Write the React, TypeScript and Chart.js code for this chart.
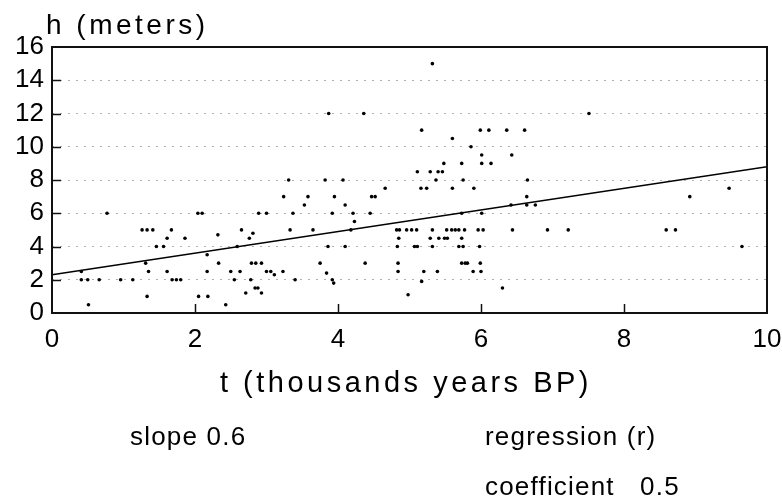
import React, { useEffect, useRef } from "react";
import { Chart, registerables } from "chart.js";

Chart.register(...registerables);

// Scatter observations: t (thousands years BP) and h (meters)
const tValues = [
  0.41, 0.5, 0.66, 0.96, 1.13, 1.68, 1.74, 1.8, 0.51, 0.41, 0.77, 2.04, 2.1,
  1.26, 1.33, 1.41, 1.67, 1.61, 1.86, 2.32, 1.46, 1.56, 2.17, 1.31, 2.33,
  1.35, 1.61, 2.17, 1.33, 2.05, 2.18,
  3.31, 3.82, 4.07, 4.66, 3.24, 3.58, 3.95, 4.47, 4.52, 3.53, 4.1, 2.89, 3.0,
  3.37, 3.92, 4.21, 4.45, 4.23, 2.65, 3.33, 3.65, 4.18, 2.81, 2.76, 2.59,
  3.86, 4.1, 2.79, 2.85, 2.93, 3.75, 4.38, 2.5, 2.63, 3.0, 3.06, 3.11, 3.23,
  3.84, 2.55, 2.78, 3.4, 3.92, 3.94, 2.84, 2.88, 2.71, 2.93, 2.43, 3.87, 4.36,
  5.37, 5.75, 6.65, 5.16, 5.24, 5.6, 5.9, 6.64, 6.42, 6.64, 6.76, 5.73, 6.01,
  4.82, 4.86, 4.96, 5.03, 5.1, 5.32, 5.52, 5.59, 5.64, 5.69, 5.77, 5.96, 6.03,
  6.44, 6.93, 4.85, 5.29, 5.41, 5.49, 5.53, 5.73, 4.83, 5.07, 5.11, 5.32,
  5.69, 5.75, 5.98, 4.84, 5.73, 5.78, 5.81, 5.99, 4.84, 5.2, 5.39, 5.89, 6.0,
  5.17, 6.3, 4.98, 5.32, 5.17, 5.99, 6.11, 6.36, 6.61, 5.6, 5.86, 6.01, 6.43,
  5.48, 5.73, 6.01, 6.14, 5.11, 5.29, 5.4, 5.46,
  7.22, 7.51, 8.59, 8.72, 8.92, 9.47, 9.65,
];
const hValues = [
  2, 2, 2, 2, 2, 2, 2, 2, 0.5, 2.5, 6, 6, 6,
  5, 5, 5, 5, 4.5, 4.5, 4.7, 4, 4, 3.5, 3, 3,
  2.5, 2.5, 2.5, 1, 1, 1,
  8, 8, 8, 7.5, 7, 7, 7, 7, 7, 6.5, 6.5, 6, 6,
  6, 6, 6, 6, 5.5, 5, 5, 5, 5, 4.8, 4.5, 4,
  4, 4, 3, 3, 3, 3, 3, 2.5, 2.5, 2.5, 2.5, 2.3, 2.5,
  2.4, 2, 2, 2, 2, 1.8, 1.5, 1.5, 1.2, 1.2, 0.5, 12, 12,
  8, 8, 8, 7.5, 7.5, 7.5, 7.5, 7, 6.5, 6.5, 6.5, 6, 6,
  5, 5, 5, 5, 5, 5, 5, 5, 5, 5, 5, 5, 5,
  5, 5, 4.5, 4.5, 4.5, 4.5, 4.5, 4.5, 4, 4, 4, 4,
  4, 4, 4, 3, 3, 3, 3, 3, 2.5, 2.5, 2.5, 2.5, 2.5,
  1.9, 1.5, 1.1, 15, 11, 11, 11, 11, 11, 10.5, 10, 9.5, 9.5,
  9, 9, 9, 9, 8.5, 8.5, 8.5, 8.5,
  5, 12, 5, 5, 7, 7.5, 4,
];

// Regression line end points
const lineT = [0, 10];
const lineH = [2.3, 8.8];

const xTicks = [0, 2, 4, 6, 8, 10];
const yTicks = [0, 2, 4, 6, 8, 10, 12, 14, 16];

const yTitle = "h (meters)";
const xTitle = "t (thousands years BP)";
const noteSlope = "slope 0.6";
const noteRegression = "regression (r)";
const noteCoefficient = "coefficient   0.5";

const FONT = "'Liberation Sans', Arial, sans-serif";

const framePlugin = {
  id: "framePlugin",
  afterDraw(chart: any) {
    const { ctx, chartArea } = chart;
    const xs = chart.scales.x;
    const ys = chart.scales.y;
    ctx.save();
    ctx.strokeStyle = "#111";
    ctx.lineWidth = 2;
    ctx.strokeRect(chartArea.left, chartArea.top, chartArea.right - chartArea.left, chartArea.bottom - chartArea.top);
    ctx.lineWidth = 1.5;
    xTicks.slice(1, -1).forEach((v) => {
      const px = Math.round(xs.getPixelForValue(v)) + 0.5;
      ctx.beginPath();
      ctx.moveTo(px, chartArea.bottom);
      ctx.lineTo(px, chartArea.bottom - 9);
      ctx.stroke();
    });
    yTicks.slice(1, -1).forEach((v) => {
      const py = Math.round(ys.getPixelForValue(v)) + 0.5;
      ctx.beginPath();
      ctx.moveTo(chartArea.left, py);
      ctx.lineTo(chartArea.left + 9, py);
      ctx.stroke();
    });
    ctx.restore();
  },
};

export default function App() {
  const ref = useRef<HTMLCanvasElement | null>(null);

  useEffect(() => {
    if (!ref.current) return;
    const points = tValues.map((t, i) => ({ x: t, y: hValues[i] }));
    const line = lineT.map((t, i) => ({ x: t, y: lineH[i] }));
    const chart = new Chart(ref.current, {
      type: "scatter",
      data: {
        datasets: [
          {
            label: "observations",
            data: points,
            backgroundColor: "#000",
            borderWidth: 0,
            pointRadius: 1.8,
            pointHoverRadius: 1.8,
          },
          {
            type: "line",
            label: "regression",
            data: line,
            borderColor: "#000",
            borderWidth: 1.6,
            pointRadius: 0,
            fill: false,
          } as any,
        ],
      },
      options: {
        responsive: false,
        animation: false,
        events: [],
        layout: { padding: { left: 0, right: 15, top: 47, bottom: 0 } },
        plugins: { legend: { display: false }, tooltip: { enabled: false } },
        scales: {
          x: {
            type: "linear",
            min: 0,
            max: 10,
            afterBuildTicks: (s: any) => {
              s.ticks = xTicks.map((v) => ({ value: v }));
            },
            afterFit: (s: any) => {
              s.height = 190;
              s.paddingLeft = 0;
              s.paddingRight = 0;
            },
            ticks: {
              color: "#000",
              font: { family: FONT, size: 26 },
              padding: 11,
              autoSkip: false,
              maxRotation: 0,
            },
            grid: { display: false, drawTicks: false },
            border: { display: false },
          },
          y: {
            type: "linear",
            min: 0,
            max: 16,
            afterBuildTicks: (s: any) => {
              s.ticks = yTicks.map((v) => ({ value: v }));
            },
            afterFit: (s: any) => {
              s.width = 52;
              s.paddingTop = 0;
              s.paddingBottom = 0;
            },
            ticks: {
              color: "#000",
              font: { family: FONT, size: 26 },
              padding: 8,
              autoSkip: false,
            },
            grid: {
              drawTicks: false,
              color: (c: any) => (c.tick && (c.tick.value === 0 || c.tick.value === 16) ? "rgba(0,0,0,0)" : "#b0b0b0"),
              lineWidth: 1,
            },
            border: { display: false, dash: [2, 6] },
          },
        },
      },
      plugins: [framePlugin],
    } as any);
    return () => chart.destroy();
  }, []);

  const base: React.CSSProperties = {
    position: "absolute",
    fontFamily: FONT,
    color: "#000",
    lineHeight: 1,
    whiteSpace: "pre",
    margin: 0,
  };

  return (
    <div style={{ position: "fixed", left: 0, top: 0, width: 782, height: 503, background: "#fff", overflow: "hidden" }}>
      <canvas ref={ref} width={782} height={503} style={{ position: "absolute", left: 0, top: 0, width: 782, height: 503 }} />
      <div style={{ ...base, left: 46, top: 11, fontSize: 28, letterSpacing: 3.5 }}>{yTitle}</div>
      <div style={{ ...base, left: 406, top: 368, fontSize: 29, letterSpacing: 3.5, transform: "translateX(-50%)" }}>{xTitle}</div>
      <div style={{ ...base, left: 130, top: 423, fontSize: 26, letterSpacing: 1.2 }}>{noteSlope}</div>
      <div style={{ ...base, left: 485, top: 423, fontSize: 26, letterSpacing: 1.2 }}>{noteRegression}</div>
      <div style={{ ...base, left: 485, top: 473, fontSize: 26, letterSpacing: 1.2 }}>{noteCoefficient}</div>
    </div>
  );
}
